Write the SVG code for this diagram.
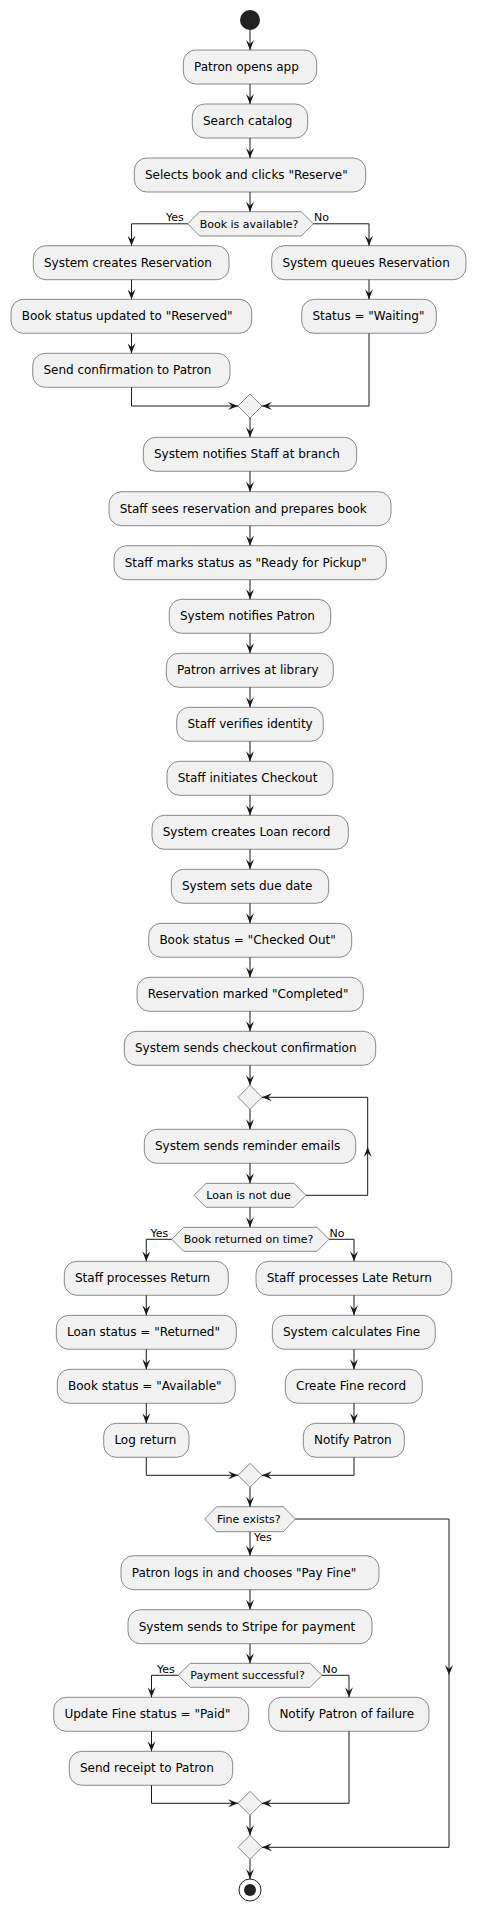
<svg xmlns="http://www.w3.org/2000/svg" width="477" height="1912" viewBox="0 0 477 1912">
<style>
.act rect{fill:#F1F1F1;stroke:#181818;stroke-width:0.5}
.dec polygon{fill:#F1F1F1;stroke:#181818;stroke-width:0.5}
.t{font-family:"DejaVu Sans",sans-serif;font-size:12px;fill:#000}
.s{font-family:"DejaVu Sans",sans-serif;font-size:11px;fill:#000}
.c path{fill:none;stroke:#181818;stroke-width:1}
.c path.a{marker-end:url(#ah)}
</style>
<defs>
<marker id="ah" markerUnits="userSpaceOnUse" viewBox="0 0 10 8" markerWidth="10" markerHeight="8" refX="10" refY="4" orient="auto">
<path d="M0,0 L10,4 L0,8 L4,4 Z" fill="#181818"/>
</marker>
</defs>
<rect width="477" height="1912" fill="#FFFFFF"/>

<g id="start"><circle cx="250" cy="20" r="10" fill="#222222"/></g>

<g id="a1" class="act"><rect x="183.3" y="50" width="133.4" height="34" rx="12.5"/><text class="t" x="194" y="71">Patron opens app</text></g>
<g id="a2" class="act"><rect x="192.3" y="104" width="115.4" height="34" rx="12.5"/><text class="t" x="203" y="125">Search catalog</text></g>
<g id="a3" class="act"><rect x="134.3" y="158" width="231.4" height="34" rx="12.5"/><text class="t" x="145" y="179">Selects book and clicks "Reserve"</text></g>
<g id="d1" class="dec"><polygon points="187.7,223.8 199.7,211.7 301.3,211.7 313.3,223.8 301.3,236 199.7,236"/><text class="s" x="199.7" y="227.7">Book is available?</text></g>
<g id="a4" class="act"><rect x="33.3" y="245.7" width="195.7" height="34" rx="12.5"/><text class="t" x="44" y="266.7">System creates Reservation</text></g>
<g id="a5" class="act"><rect x="271.7" y="245.7" width="194.3" height="34" rx="12.5"/><text class="t" x="282.4" y="266.7">System queues Reservation</text></g>
<g id="a6" class="act"><rect x="11" y="299.3" width="240.7" height="34" rx="12.5"/><text class="t" x="21.7" y="320.3">Book status updated to "Reserved"</text></g>
<g id="a7" class="act"><rect x="301.7" y="299.3" width="134.6" height="34" rx="12.5"/><text class="t" x="312.4" y="320.3">Status = "Waiting"</text></g>
<g id="a8" class="act"><rect x="32.7" y="353.3" width="197.3" height="34" rx="12.5"/><text class="t" x="43.4" y="374.3">Send confirmation to Patron</text></g>
<g id="m1" class="dec"><polygon points="250,394 262,406 250,418 238,406"/></g>
<g id="a9" class="act"><rect x="143.3" y="437.3" width="213.4" height="34" rx="12.5"/><text class="t" x="154" y="458.3">System notifies Staff at branch</text></g>
<g id="a10" class="act"><rect x="109" y="491.7" width="282" height="34" rx="12.5"/><text class="t" x="119.7" y="512.7">Staff sees reservation and prepares book</text></g>
<g id="a11" class="act"><rect x="114" y="545.7" width="272.3" height="34" rx="12.5"/><text class="t" x="124.7" y="566.7">Staff marks status as "Ready for Pickup"</text></g>
<g id="a12" class="act"><rect x="169.3" y="599.3" width="161.4" height="34" rx="12.5"/><text class="t" x="180" y="620.3">System notifies Patron</text></g>
<g id="a13" class="act"><rect x="166.3" y="653.3" width="167" height="34" rx="12.5"/><text class="t" x="177" y="674.3">Patron arrives at library</text></g>
<g id="a14" class="act"><rect x="176.7" y="707.3" width="146.6" height="34" rx="12.5"/><text class="t" x="187.4" y="728.3">Staff verifies identity</text></g>
<g id="a15" class="act"><rect x="167" y="761.3" width="166" height="34" rx="12.5"/><text class="t" x="177.7" y="782.3">Staff initiates Checkout</text></g>
<g id="a16" class="act"><rect x="152" y="815.3" width="196.3" height="34" rx="12.5"/><text class="t" x="162.7" y="836.3">System creates Loan record</text></g>
<g id="a17" class="act"><rect x="171.3" y="869.3" width="157.4" height="34" rx="12.5"/><text class="t" x="182" y="890.3">System sets due date</text></g>
<g id="a18" class="act"><rect x="148.7" y="923.3" width="203" height="34" rx="12.5"/><text class="t" x="159.4" y="944.3">Book status = "Checked Out"</text></g>
<g id="a19" class="act"><rect x="137" y="977.3" width="226.3" height="34" rx="12.5"/><text class="t" x="147.7" y="998.3">Reservation marked "Completed"</text></g>
<g id="a20" class="act"><rect x="124.3" y="1031.3" width="251.4" height="34" rx="12.5"/><text class="t" x="135" y="1052.3">System sends checkout confirmation</text></g>
<g id="m2" class="dec"><polygon points="250,1085.3 262,1097.3 250,1109.3 238,1097.3"/></g>
<g id="a21" class="act"><rect x="144.3" y="1129.3" width="211.4" height="34" rx="12.5"/><text class="t" x="155" y="1150.3">System sends reminder emails</text></g>
<g id="d2" class="dec"><polygon points="194,1195.3 206,1183.3 294,1183.3 306,1195.3 294,1207.3 206,1207.3"/><text class="s" x="206.3" y="1199.3">Loan is not due</text></g>
<g id="d3" class="dec"><polygon points="171.7,1239.3 183.7,1227.3 317,1227.3 329,1239.3 317,1251.3 183.7,1251.3"/><text class="s" x="183.7" y="1243.3">Book returned on time?</text></g>
<g id="a22" class="act"><rect x="64.3" y="1261.3" width="164" height="34" rx="12.5"/><text class="t" x="75" y="1282.3">Staff processes Return</text></g>
<g id="a23" class="act"><rect x="256" y="1261.3" width="195.7" height="34" rx="12.5"/><text class="t" x="266.7" y="1282.3">Staff processes Late Return</text></g>
<g id="a24" class="act"><rect x="56.3" y="1315.3" width="180" height="34" rx="12.5"/><text class="t" x="67" y="1336.3">Loan status = "Returned"</text></g>
<g id="a25" class="act"><rect x="272.3" y="1315.3" width="163" height="34" rx="12.5"/><text class="t" x="283" y="1336.3">System calculates Fine</text></g>
<g id="a26" class="act"><rect x="57.3" y="1369.3" width="178" height="34" rx="12.5"/><text class="t" x="68" y="1390.3">Book status = "Available"</text></g>
<g id="a27" class="act"><rect x="285.3" y="1369.3" width="137" height="34" rx="12.5"/><text class="t" x="296" y="1390.3">Create Fine record</text></g>
<g id="a28" class="act"><rect x="103.7" y="1423.3" width="85.3" height="34" rx="12.5"/><text class="t" x="114.4" y="1444.3">Log return</text></g>
<g id="a29" class="act"><rect x="303.3" y="1423.3" width="101" height="34" rx="12.5"/><text class="t" x="314" y="1444.3">Notify Patron</text></g>
<g id="m3" class="dec"><polygon points="250,1463.3 262,1475.3 250,1487.3 238,1475.3"/></g>
<g id="d4" class="dec"><polygon points="204.7,1519 216.7,1506.7 283.3,1506.7 295.3,1519 283.3,1531.7 216.7,1531.7"/><text class="s" x="217" y="1523">Fine exists?</text></g>
<g id="a30" class="act"><rect x="121" y="1555.7" width="258" height="34" rx="12.5"/><text class="t" x="131.7" y="1576.7">Patron logs in and chooses "Pay Fine"</text></g>
<g id="a31" class="act"><rect x="128" y="1609.7" width="244" height="34" rx="12.5"/><text class="t" x="138.7" y="1630.7">System sends to Stripe for payment</text></g>
<g id="d5" class="dec"><polygon points="178.3,1675.3 190.3,1663.3 310,1663.3 322,1675.3 310,1687.3 190.3,1687.3"/><text class="s" x="190.3" y="1679.3">Payment successful?</text></g>
<g id="a32" class="act"><rect x="53.7" y="1697.3" width="195" height="34" rx="12.5"/><text class="t" x="64.4" y="1718.3">Update Fine status = "Paid"</text></g>
<g id="a33" class="act"><rect x="268.7" y="1697.3" width="160.3" height="34" rx="12.5"/><text class="t" x="279.4" y="1718.3">Notify Patron of failure</text></g>
<g id="a34" class="act"><rect x="69.3" y="1751.3" width="163.4" height="34" rx="12.5"/><text class="t" x="80" y="1772.3">Send receipt to Patron</text></g>
<g id="m4" class="dec"><polygon points="250,1791.3 262,1803.3 250,1815.3 238,1803.3"/></g>
<g id="m5" class="dec"><polygon points="250,1835.3 262,1847.3 250,1859.3 238,1847.3"/></g>
<g id="end"><circle cx="250" cy="1890" r="11" fill="none" stroke="#222222" stroke-width="1"/><circle cx="250" cy="1890" r="6" fill="#222222"/></g>

<g id="labels">
<text class="s" x="166" y="220.5">Yes</text>
<text class="s" x="314" y="220.5">No</text>
<text class="s" x="150.5" y="1236.5">Yes</text>
<text class="s" x="329.5" y="1236.5">No</text>
<text class="s" x="254" y="1541">Yes</text>
<text class="s" x="157" y="1672.5">Yes</text>
<text class="s" x="322.5" y="1672.5">No</text>
</g>

<g id="connectors" class="c">
<path class="a" d="M250,30 V50"/>
<path class="a" d="M250,84 V104"/>
<path class="a" d="M250,138 V158"/>
<path class="a" d="M250,192 V211.7"/>
<path class="a" d="M187.7,223.8 H131.5 V245.7"/>
<path class="a" d="M313.3,223.8 H369 V245.7"/>
<path class="a" d="M131.5,279.7 V299.3"/>
<path class="a" d="M131.5,333.3 V353.3"/>
<path class="a" d="M369,279.7 V299.3"/>
<path class="a" d="M131.5,387.3 V406 H238"/>
<path class="a" d="M369,333.3 V406 H262"/>
<path class="a" d="M250,418 V437.3"/>
<path class="a" d="M250,471.3 V491.7"/>
<path class="a" d="M250,525.7 V545.7"/>
<path class="a" d="M250,579.7 V599.3"/>
<path class="a" d="M250,633.3 V653.3"/>
<path class="a" d="M250,687.3 V707.3"/>
<path class="a" d="M250,741.3 V761.3"/>
<path class="a" d="M250,795.3 V815.3"/>
<path class="a" d="M250,849.3 V869.3"/>
<path class="a" d="M250,903.3 V923.3"/>
<path class="a" d="M250,957.3 V977.3"/>
<path class="a" d="M250,1011.3 V1031.3"/>
<path class="a" d="M250,1065.3 V1085.3"/>
<path class="a" d="M250,1109.3 V1129.3"/>
<path class="a" d="M250,1163.3 V1183.3"/>
<path class="a" d="M306,1195.3 H367.7 V1147"/>
<path class="a" d="M367.7,1147 V1097.3 H262"/>
<path class="a" d="M250,1207.3 V1227.3"/>
<path class="a" d="M171.7,1239.3 H146.3 V1261.3"/>
<path class="a" d="M329,1239.3 H354 V1261.3"/>
<path class="a" d="M146.3,1295.3 V1315.3"/>
<path class="a" d="M146.3,1349.3 V1369.3"/>
<path class="a" d="M146.3,1403.3 V1423.3"/>
<path class="a" d="M354,1295.3 V1315.3"/>
<path class="a" d="M354,1349.3 V1369.3"/>
<path class="a" d="M354,1403.3 V1423.3"/>
<path class="a" d="M146.3,1457.3 V1475.3 H238"/>
<path class="a" d="M354,1457.3 V1475.3 H262"/>
<path class="a" d="M250,1487.3 V1506.7"/>
<path class="a" d="M250,1531.7 V1555.7"/>
<path class="a" d="M295.3,1519 H449 V1675"/>
<path class="a" d="M449,1675 V1847.3 H262"/>
<path class="a" d="M250,1589.7 V1609.7"/>
<path class="a" d="M250,1643.7 V1663.3"/>
<path class="a" d="M178.3,1675.3 H151.5 V1697.3"/>
<path class="a" d="M322,1675.3 H349 V1697.3"/>
<path class="a" d="M151.5,1731.3 V1751.3"/>
<path class="a" d="M151.5,1785.3 V1803.3 H238"/>
<path class="a" d="M349,1731.3 V1803.3 H262"/>
<path class="a" d="M250,1815.3 V1835.3"/>
<path class="a" d="M250,1859.3 V1879"/>
</g>
</svg>
